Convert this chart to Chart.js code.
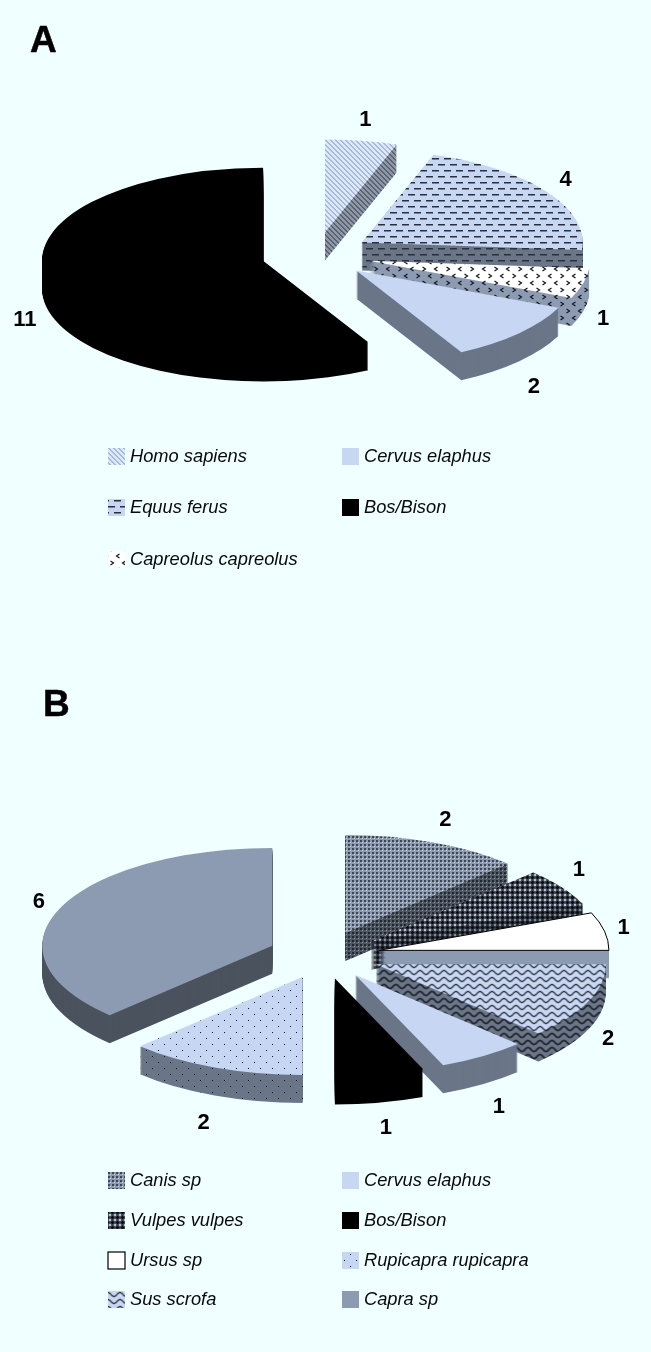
<!DOCTYPE html>
<html>
<head>
<meta charset="utf-8">
<title>Species pies</title>
<script src="https://cdn.jsdelivr.net/npm/chart.js@4"></script>
<style>
	html, body { margin: 0; padding: 0; background: #f0ffff; }
	body { position: relative; width: 651px; height: 1352px; overflow: hidden; }
	canvas { position: absolute; left: 0; }
	#pieA { top: 0; }
	#pieB { top: 640px; }
</style>
</head>
<body>
<canvas id="pieA" width="651" height="640"></canvas>
<canvas id="pieB" width="651" height="712"></canvas>
<script>
	"use strict";

	// pie A
	var speciesA = ["Homo sapiens", "Equus ferus", "Capreolus capreolus", "Cervus elaphus", "Bos/Bison"];
	var countsA = [1, 4, 1, 2, 11];

	// pie B
	var speciesB = ["Canis sp", "Vulpes vulpes", "Ursus sp", "Sus scrofa", "Cervus elaphus", "Bos/Bison", "Rupicapra rupicapra", "Capra sp"];
	var countsB = [2, 1, 1, 2, 1, 1, 2, 6];

	var lightBlue = "#c6d6f3";
	var slate = "#8d9bb2";
	var wallGrey = "#6a7688";

	// small repeating tiles, same idea as the fill patterns of office charts
	function tile(w, h, bg, paint) {
		var c = document.createElement("canvas");
		c.width = w;
		c.height = h;
		var g = c.getContext("2d");
		g.fillStyle = bg;
		g.fillRect(0, 0, w, h);
		paint(g);
		return g.createPattern(c, "repeat");
	}

	function stripes(bg, ink) {
		return tile(5, 5, bg, function (g) {
			g.fillStyle = ink;
			for (var y = 0; y < 5; y++) {
				for (var x = 0; x < 5; x++) {
					if ((x - y + 5) % 5 < 2) g.fillRect(x, y, 1, 1);
				}
			}
		});
	}

	function dashes(bg) {
		return tile(12, 12, bg, function (g) {
			g.fillStyle = "#2a2f38";
			g.fillRect(0, 2, 7, 1.5);
			g.fillRect(6, 8, 6, 1.5);
			g.fillRect(0, 8, 1, 1.5);
		});
	}

	function chevrons(bg) {
		return tile(24, 14, bg, function (g) {
			g.strokeStyle = "#14181e";
			g.lineWidth = 1.2;
			function mark(x, y, dir) {
				g.beginPath();
				g.moveTo(x - dir * 1.5, y - 2);
				g.lineTo(x + dir * 1.5, y);
				g.lineTo(x - dir * 1.5, y + 2);
				g.stroke();
			}
			mark(4, 3, -1);
			mark(16, 3, 1);
			mark(10, 10, 1);
			mark(22, 10, -1);
		});
	}

	function grid(bg, dark, light) {
		return tile(4, 4, bg, function (g) {
			g.fillStyle = dark;
			g.fillRect(0, 0, 2, 2);
			g.fillStyle = light;
			g.fillRect(2, 2, 1, 1);
		});
	}

	function checks(bg, light) {
		return tile(5, 5, bg, function (g) {
			g.fillStyle = "#0a0c10";
			g.beginPath();
			g.moveTo(2.5, 0.5);
			g.lineTo(4.5, 2.5);
			g.lineTo(2.5, 4.5);
			g.lineTo(0.5, 2.5);
			g.fill();
			g.fillStyle = light;
			g.fillRect(0, 0, 1, 1);
			g.fillRect(4, 4, 1, 1);
			g.fillRect(4, 0, 1, 1);
			g.fillRect(0, 4, 1, 1);
		});
	}

	function waves(bg, shade) {
		return tile(12, 7, bg, function (g) {
			function wave(y, color, width) {
				g.strokeStyle = color;
				g.lineWidth = width;
				g.beginPath();
				g.moveTo(-3, y + 1.5);
				g.quadraticCurveTo(0, y - 2.5, 3, y + 1.5);
				g.quadraticCurveTo(6, y + 5.5, 9, y + 1.5);
				g.quadraticCurveTo(12, y - 2.5, 15, y + 1.5);
				g.stroke();
			}
			wave(2, shade, 2.2);
			wave(2, "#1a1e26", 0.9);
		});
	}

	function dots(bg) {
		return tile(12, 12, bg, function (g) {
			g.fillStyle = "#14181e";
			g.fillRect(2, 2, 1, 1);
			g.fillRect(8, 8, 1, 1);
		});
	}

	// top face and wall fill of each species
	var fills = {
		"Homo sapiens": { top: stripes("#dde9fb", "#a9bad8"), wall: stripes("#8e98a8", "#59626e") },
		"Equus ferus": { top: dashes(lightBlue), wall: dashes(wallGrey) },
		"Capreolus capreolus": { top: chevrons("#ffffff"), wall: chevrons(slate) },
		"Cervus elaphus": { top: lightBlue, wall: wallGrey },
		"Bos/Bison": { top: "#000000", wall: "#000000" },
		"Canis sp": { top: grid(slate, "#3f4650", "#c9d3e3"), wall: grid("#4e5662", "#23272e", "#8d9bb2") },
		"Vulpes vulpes": { top: checks("#4a525e", "#b4c0d4"), wall: checks("#353b44", "#7d899c") },
		"Ursus sp": { top: "#ffffff", wall: slate, outline: "#000000" },
		"Sus scrofa": { top: waves(lightBlue, "#8f9aac"), wall: waves("#6a7688", "#3a414b") },
		"Rupicapra rupicapra": { top: dots(lightBlue), wall: dots(wallGrey) },
		"Capra sp": { top: slate, wall: "#4b535e" }
	};

	// wedge outline on the tilted plane, lowered by "drop" pixels
	function wedgePath(ctx, arc, tilt, drop) {
		var mid = (arc.startAngle + arc.endAngle) / 2;
		var shift = arc.options.offset;
		var cx = arc.x + Math.cos(mid) * shift;
		var cy = arc.y + Math.sin(mid) * shift * tilt + drop;
		ctx.beginPath();
		ctx.moveTo(cx, cy);
		ctx.ellipse(cx, cy, arc.outerRadius, arc.outerRadius * tilt, 0, arc.startAngle, arc.endAngle);
		ctx.closePath();
	}

	// paints the arcs as a raised, tilted pie, plus its value labels, legend and letter
	var tiltedPie = {
		id: "tiltedPie",
		beforeDatasetsDraw: function (chart, args, opts) {
			var ctx = chart.ctx;
			var arcs = chart.getDatasetMeta(0).data;
			var names = chart.data.labels;
			var values = chart.data.datasets[0].data;

			ctx.save();
			arcs.forEach(function (arc, i) {
				var fill = fills[names[i]];
				ctx.fillStyle = fill.wall;
				for (var d = opts.depth; d > 0; d--) {
					wedgePath(ctx, arc, opts.tilt, d);
					ctx.fill();
				}
				wedgePath(ctx, arc, opts.tilt, 0);
				ctx.fillStyle = fill.top;
				ctx.fill();
				if (fill.outline) {
					ctx.strokeStyle = fill.outline;
					ctx.lineWidth = 1;
					ctx.stroke();
				}
			});

			// value labels sit off the middle of each outer edge
			ctx.fillStyle = "#000000";
			ctx.font = "bold 22px 'Liberation Sans', Arial, sans-serif";
			ctx.textAlign = "center";
			ctx.textBaseline = "middle";
			arcs.forEach(function (arc, i) {
				var mid = (arc.startAngle + arc.endAngle) / 2;
				var reach = arc.options.offset + arc.outerRadius;
				ctx.fillText(String(values[i]),
					arc.x + Math.cos(mid) * reach + opts.labelNudge[i][0],
					arc.y + Math.sin(mid) * reach * opts.tilt + opts.labelNudge[i][1]);
			});

			// legend
			ctx.textAlign = "left";
			ctx.font = "italic 18.3px 'Liberation Sans', Arial, sans-serif";
			names.forEach(function (name, i) {
				var slot = opts.legendSlots[i];
				var fill = fills[name];
				ctx.fillStyle = fill.top;
				ctx.fillRect(slot[0], slot[1] - 9, 17, 17);
				if (fill.outline) {
					ctx.strokeStyle = fill.outline;
					ctx.lineWidth = 1.2;
					ctx.strokeRect(slot[0], slot[1] - 9, 17, 17);
				}
				ctx.fillStyle = "#0a0a0a";
				ctx.fillText(name, slot[0] + 22, slot[1]);
			});

			ctx.font = "bold 37px 'Liberation Sans', Arial, sans-serif";
			ctx.textBaseline = "alphabetic";
			ctx.fillStyle = "#000000";
			ctx.strokeStyle = "#000000";
			ctx.lineWidth = 0.5;
			ctx.fillText(opts.letter.text, opts.letter.x, opts.letter.y);
			ctx.strokeText(opts.letter.text, opts.letter.x, opts.letter.y);
			ctx.restore();
			return false;
		}
	};

	function drawPie(id, names, counts, radius, explode, padding, pieOpts) {
		return new Chart(document.getElementById(id), {
			type: "pie",
			data: {
				labels: names,
				datasets: [{ data: counts, offset: explode, borderWidth: 0 }]
			},
			options: {
				responsive: false,
				animation: false,
				events: [],
				radius: radius,
				layout: { padding: padding },
				plugins: {
					legend: { display: false },
					tooltip: { enabled: false },
					tiltedPie: pieOpts
				}
			},
			plugins: [tiltedPie]
		});
	}

	drawPie("pieA", speciesA, countsA, 221, 54.6, { right: 19, bottom: 130 }, {
		tilt: 0.42,
		depth: 28,
		letter: { text: "A", x: 30, y: 52 },
		labelNudge: [[4, -21], [19, -12], [20, 36], [15, 54], [-24, 37]],
		legendSlots: [[108, 457], [108, 508], [108, 560], [342, 457], [342, 508]]
	});

	drawPie("pieB", speciesB, countsB, 230, 56, { right: 3, bottom: 82 }, {
		tilt: 0.426,
		depth: 28,
		letter: { text: "B", x: 43, y: 76 },
		labelNudge: [[12, -23], [17, -17], [19, -3], [20, 37], [16, 51], [6, 53], [-11, 55], [-21, -6]],
		legendSlots: [[108, 541], [108, 581], [108, 621], [108, 660], [342, 541], [342, 581], [342, 621], [342, 660]]
	});
</script>
</body>
</html>
